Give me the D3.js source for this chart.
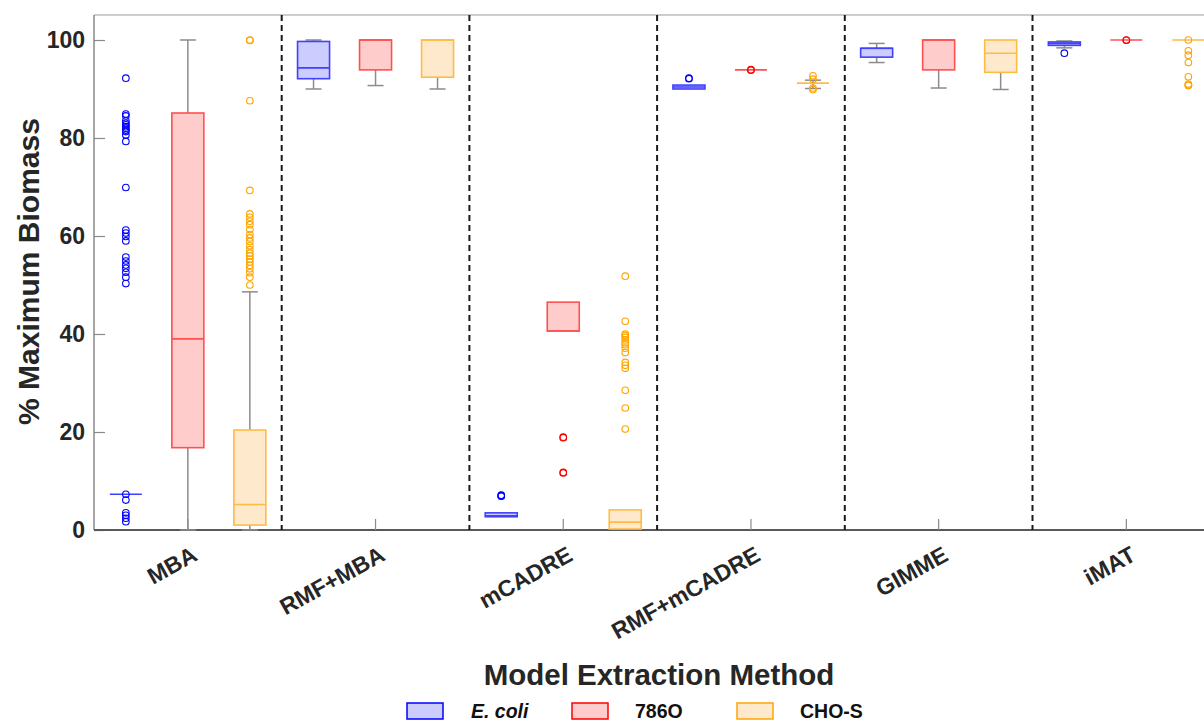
<!DOCTYPE html>
<html><head><meta charset="utf-8">
<script src="https://cdn.jsdelivr.net/npm/d3@7"></script>
<style>
body{margin:0;background:#fff;}
svg{display:block;}
text{font-family:"Liberation Sans",Arial,sans-serif;}
</style></head>
<body><svg id="c" width="1204" height="723"></svg>
<script>
const methods = ["MBA","RMF+MBA","mCADRE","RMF+mCADRE","GIMME","iMAT"];
const seriesNames = ["E. coli","786O","CHO-S"];
const yTicks = [0,20,40,60,80,100];

// E. coli box statistics per method
const ecoliQ1  = [7.3, 92.1, 2.7, 90.0, 96.5, 98.9];
const ecoliMed = [7.3, 94.3, 2.9, 90.4, 98.3, 99.3];
const ecoliQ3  = [7.3, 99.7, 3.5, 90.8, 98.3, 99.6];
const ecoliLo  = [7.3, 90.0, 2.7, 90.0, 95.4, 98.4];
const ecoliHi  = [7.3, 100,  3.5, 90.8, 99.3, 99.8];
const ecoliOut = [
  [92.2,84.9,84.5,83.5,83.0,82.7,82.3,82.0,81.6,81.3,80.6,79.3,69.9,61.2,60.6,59.9,59.0,55.7,54.9,54.1,53.4,52.6,51.6,50.3,7.3,6.1,3.5,3.0,2.4,1.7],
  [],
  [6.9,7.0,7.1],
  [92.1,92.2],
  [],
  [97.3]
];

// 786O box statistics per method
const r786Q1  = [16.8, 93.9, 40.6, 93.9, 93.9, 100];
const r786Med = [39.0, 100,  40.6, 93.9, 100,  100];
const r786Q3  = [85.1, 100,  46.5, 93.9, 100,  100];
const r786Lo  = [0,    90.7, 40.6, 93.9, 90.2, 100];
const r786Hi  = [100,  100,  46.5, 93.9, 100,  100];
const r786Out = [
  [],
  [],
  [18.85,18.95,11.65,11.75],
  [93.85,93.95],
  [],
  [99.95,100]
];

// CHO-S box statistics per method
const choQ1  = [1.0,  92.4, 0.2, 91.2, 93.4, 100];
const choMed = [5.2,  100,  1.6, 91.2, 97.3, 100];
const choQ3  = [20.4, 100,  4.1, 91.2, 100,  100];
const choLo  = [0,    90.0, 0.2, 90.1, 89.9, 100];
const choHi  = [48.6, 100,  4.1, 91.8, 100,  100];
const choOut = [
  [100,99.9,87.6,69.3,64.5,63.8,63.0,62.3,61.3,60.3,59.6,58.9,58.0,57.2,56.5,55.9,55.3,54.7,54.0,53.3,52.5,51.6,50.0],
  [],
  [51.8,42.6,40.0,39.7,39.3,38.8,38.2,37.8,37.1,36.2,34.2,33.6,33.0,28.5,24.9,20.6],
  [92.7,92.0,90.2,89.9],
  [],
  [100,97.8,96.9,95.4,92.5,91.0,90.7,90.8]
];

const styles = {
  "E. coli": {fill:"#ccccff", stroke:"#4040ff", pt:"#0000ff"},
  "786O":    {fill:"#ffcccc", stroke:"#ff5050", pt:"#ff0000"},
  "CHO-S":   {fill:"#ffe9cc", stroke:"#ffbb44", pt:"#ffa500"}
};

const statsBySeries = {
  "E. coli": {q1:ecoliQ1, med:ecoliMed, q3:ecoliQ3, lo:ecoliLo, hi:ecoliHi, out:ecoliOut},
  "786O":    {q1:r786Q1,  med:r786Med,  q3:r786Q3,  lo:r786Lo,  hi:r786Hi,  out:r786Out},
  "CHO-S":   {q1:choQ1,   med:choMed,   q3:choQ3,   lo:choLo,   hi:choHi,   out:choOut}
};

const boxes = [];
methods.forEach((m,i)=>{
  seriesNames.forEach(s=>{
    const st = statsBySeries[s];
    boxes.push({method:m, series:s, q1:st.q1[i], med:st.med[i], q3:st.q3[i], lo:st.lo[i], hi:st.hi[i], out:st.out[i]});
  });
});

const svg = d3.select("#c");
const mLeft = 94, mTop = 15, mBottom = 530;
const groupW = 187.7;
const x = d3.scaleBand().domain(methods).range([mLeft, mLeft + groupW*methods.length]).padding(0);
const inner = d3.scalePoint().domain(seriesNames).range([-62, 62]);
const y = d3.scaleLinear().domain([0, 105.1]).range([mBottom, mTop]);
const cx = d => x(d.method) + x.bandwidth()/2 + inner(d.series);
const boxW = 32, capW = 16;

// frame
svg.append("line").attr("x1",mLeft).attr("x2",1204).attr("y1",mTop).attr("y2",mTop)
  .attr("stroke","#bdbdbd").attr("stroke-width",1.5);

// y axis
const yAxis = d3.axisLeft(y).tickValues(yTicks).tickSize(-11).tickPadding(9).tickSizeOuter(0);
const gy = svg.append("g").attr("transform",`translate(${mLeft},0)`).call(yAxis);
gy.select(".domain").attr("stroke","#8a8a8a").attr("stroke-width",1.5)
  .attr("d", `M0,${mTop}V${mBottom}`);
gy.selectAll(".tick line").attr("stroke","#8a8a8a").attr("stroke-width",1.2);
gy.selectAll(".tick text").attr("fill","#262626").style("font-size","23px").style("font-weight","bold")
  .attr("font-family",null);

// x axis
const xAxis = d3.axisBottom(x).tickSize(-11).tickSizeOuter(0).tickFormat("");
const gx = svg.append("g").attr("transform",`translate(0,${mBottom})`).call(xAxis);
gx.select(".domain").attr("stroke","#595959").attr("stroke-width",1.8).attr("d",`M${mLeft},0H1204`);
gx.selectAll(".tick line").attr("stroke","#8a8a8a").attr("stroke-width",1.2);

// x tick labels (rotated)
svg.append("g").selectAll("text").data(methods).join("text")
  .attr("transform", m => `translate(${x(m)+x.bandwidth()/2+3},${mBottom+15}) rotate(-29)`)
  .attr("text-anchor","end").attr("dy","0.72em")
  .attr("fill","#262626").style("font-size","23px").style("font-weight","bold")
  .text(m=>m);

// dividers
svg.append("g").selectAll("line").data(methods.slice(1)).join("line")
  .attr("x1",m=>x(m)).attr("x2",m=>x(m)).attr("y1",mTop).attr("y2",mBottom)
  .attr("stroke","#1a1a1a").attr("stroke-width",2).attr("stroke-dasharray","6,4");

// whiskers
const wg = svg.append("g");
boxes.forEach(d=>{
  const c = cx(d);
  if (d.hi > d.q3) {
    wg.append("line").attr("x1",c).attr("x2",c).attr("y1",y(d.q3)).attr("y2",y(d.hi)).attr("stroke","#8c8c8c").attr("stroke-width",1.5);
    wg.append("line").attr("x1",c-capW/2).attr("x2",c+capW/2).attr("y1",y(d.hi)).attr("y2",y(d.hi)).attr("stroke","#8c8c8c").attr("stroke-width",1.5);
  }
  if (d.lo < d.q1) {
    wg.append("line").attr("x1",c).attr("x2",c).attr("y1",y(d.q1)).attr("y2",y(d.lo)).attr("stroke","#8c8c8c").attr("stroke-width",1.5);
    wg.append("line").attr("x1",c-capW/2).attr("x2",c+capW/2).attr("y1",y(d.lo)).attr("y2",y(d.lo)).attr("stroke","#8c8c8c").attr("stroke-width",1.5);
  }
});

// boxes
svg.append("g").selectAll("rect").data(boxes).join("rect")
  .attr("x",d=>cx(d)-boxW/2).attr("width",boxW)
  .attr("y",d=>y(d.q3)).attr("height",d=>Math.max(0,y(d.q1)-y(d.q3)))
  .attr("fill",d=>styles[d.series].fill).attr("stroke",d=>styles[d.series].stroke).attr("stroke-width",1.6);

// medians
svg.append("g").selectAll("line").data(boxes).join("line")
  .attr("x1",d=>cx(d)-boxW/2).attr("x2",d=>cx(d)+boxW/2)
  .attr("y1",d=>y(d.med)).attr("y2",d=>y(d.med))
  .attr("stroke",d=>styles[d.series].stroke).attr("stroke-width",1.6);

// outliers
const pts = boxes.flatMap(d=>d.out.map(v=>({d, v})));
svg.append("g").selectAll("circle").data(pts).join("circle")
  .attr("cx",p=>cx(p.d)).attr("cy",p=>y(p.v)).attr("r",3.3)
  .attr("fill","none").attr("stroke",p=>styles[p.d.series].pt).attr("stroke-width",1.1);

// axis titles
svg.append("text").attr("transform",`translate(39,${(mTop+mBottom)/2-1}) rotate(-90)`)
  .attr("text-anchor","middle").attr("fill","#262626")
  .style("font-size","30px").style("font-weight","bold").text("% Maximum Biomass");
svg.append("text").attr("x",659).attr("y",685).attr("text-anchor","middle").attr("fill","#262626")
  .style("font-size","29.5px").style("font-weight","bold").text("Model Extraction Method");

// legend
const legX = d3.scaleOrdinal().domain(seriesNames).range([407, 572, 737]);
const lg = svg.append("g").selectAll("g").data(seriesNames).join("g")
  .attr("transform",s=>`translate(${legX(s)},703)`);
lg.append("rect").attr("width",36).attr("height",16)
  .attr("fill",s=>styles[s].fill).attr("stroke",s=>styles[s].pt).attr("stroke-width",1.5);
lg.append("text").attr("x",s=> s==="E. coli" ? 64 : 63).attr("y",15)
  .attr("fill","#111").style("font-size","19.5px").style("font-weight","bold")
  .style("font-style",s=> s==="E. coli" ? "italic" : "normal")
  .text(s=>s);
</script></body></html>
